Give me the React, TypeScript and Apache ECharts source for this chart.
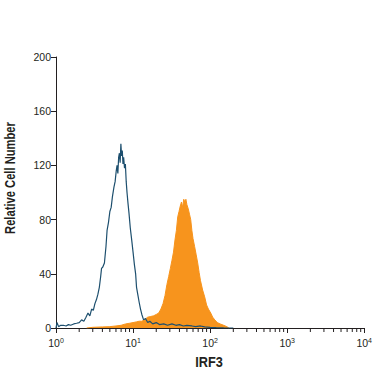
import React, { useEffect, useRef } from "react";
import * as echarts from "echarts";

const blueData: [number, number][] = [
  [1.0, 0], [1.03, 4], [1.08, 1], [1.15, 2], [1.25, 2], [1.35, 1.5], [1.45, 2.5], [1.55, 2],
  [1.7, 3], [1.85, 3.5], [2.0, 4], [2.15, 6], [2.3, 5], [2.45, 8], [2.6, 11], [2.75, 9],
  [2.9, 14], [3.05, 13], [3.2, 18], [3.35, 21], [3.5, 25], [3.65, 30], [3.8, 38], [3.9, 44],
  [4.05, 45], [4.25, 48], [4.45, 60], [4.6, 72], [4.8, 78], [5.0, 86], [5.2, 89], [5.4, 97],
  [5.65, 104], [5.85, 108], [6.05, 116], [6.2, 120], [6.35, 114], [6.5, 126], [6.65, 129],
  [6.8, 122], [6.95, 136], [7.1, 127], [7.25, 131], [7.4, 121], [7.55, 126], [7.75, 118],
  [7.95, 121], [8.15, 108], [8.35, 100], [8.6, 92], [8.85, 85], [9.2, 74], [9.6, 65],
  [10.0, 56], [10.4, 47], [10.8, 40], [11.1, 30], [11.5, 25], [12.0, 19], [12.5, 14],
  [13.0, 10], [13.7, 6], [14.5, 7], [15.5, 4], [16.5, 5], [18, 3], [20, 4], [22, 2.5],
  [25, 3], [28, 2], [32, 3], [36, 2], [40, 2.5], [45, 1.5], [50, 2], [58, 1.5], [65, 1],
  [75, 1.5], [85, 0.8], [100, 0.5], [120, 0.3], [150, 0.1], [200, 0],
];

const orangeData: [number, number][] = [
  [2.5, 0], [3, 0.5], [4, 0.8], [5, 1], [6, 1.5], [7, 2], [8, 3], [9, 3.5], [10, 4],
  [11, 4.5], [12, 5], [13, 5], [14, 6], [15.5, 8], [17, 8.5], [18.5, 9], [20, 10],
  [21.5, 11], [23, 14], [24.5, 18], [26, 24], [27.5, 32], [29, 38], [30.5, 44], [32, 50],
  [33.5, 56], [35, 65], [36.5, 72], [38, 82], [39.5, 86], [41, 90], [42.5, 93], [44, 89],
  [45.5, 95], [47, 93], [48.5, 95], [50, 91], [52, 88], [54, 84], [56, 80], [58, 72],
  [60, 66], [63, 60], [66, 54], [69, 48], [72, 41], [75, 35], [80, 28], [85, 23], [90, 17],
  [95, 14], [102, 11], [108, 8], [115, 6], [124, 4], [135, 3], [150, 2], [165, 1], [175, 0],
];

const minorTickValues: number[] = [
  2, 3, 4, 5, 6, 7, 8, 9,
  20, 30, 40, 50, 60, 70, 80, 90,
  200, 300, 400, 500, 600, 700, 800, 900,
  2000, 3000, 4000, 5000, 6000, 7000, 8000, 9000,
];

const yTicks = { min: 0, max: 200, interval: 40 };
const xTitle = "IRF3";
const yTitle = "Relative Cell Number";

const FONT = "'Liberation Sans', Arial, sans-serif";
const INK = "#231f20";

export default function App() {
  const ref = useRef<HTMLDivElement>(null);
  useEffect(() => {
    if (!ref.current) return;
    const chart = echarts.init(ref.current, null, { renderer: "svg" });
    chart.setOption({
      animation: false,
      backgroundColor: "#ffffff",
      grid: { left: 56, right: 6, top: 57, bottom: 47, containLabel: false },
      xAxis: {
        type: "log",
        logBase: 10,
        min: 1,
        max: 10000,
        axisLine: { show: true, onZero: false, lineStyle: { color: INK, width: 1 } },
        axisTick: { show: true, inside: false, length: 5, lineStyle: { color: INK } },
        splitLine: { show: false },
        axisLabel: {
          margin: 9,
          color: INK,
          fontFamily: FONT,
          formatter: (v: number) => `{b|10}{s|${Math.round(Math.log10(v))}}`,
          rich: {
            b: { fontSize: 10.5, fontFamily: FONT, color: INK, lineHeight: 12 },
            s: { fontSize: 7, fontFamily: FONT, color: INK, lineHeight: 7, verticalAlign: "top" },
          },
        },
      },
      yAxis: {
        type: "value",
        min: yTicks.min,
        max: yTicks.max,
        interval: yTicks.interval,
        axisLine: { show: true, lineStyle: { color: INK, width: 1 } },
        axisTick: { show: true, inside: false, length: 5, lineStyle: { color: INK } },
        splitLine: { show: false },
        axisLabel: { margin: 5, color: INK, fontSize: 10.5, fontFamily: FONT },
      },
      graphic: [
        {
          type: "text",
          x: 11,
          y: 178,
          rotation: Math.PI / 2,
          scaleX: 0.8,
          style: {
            text: yTitle,
            fontSize: 14,
            fontWeight: "bold",
            fontFamily: FONT,
            fill: INK,
            align: "center",
            verticalAlign: "middle",
          },
        },
        {
          type: "text",
          x: 209,
          y: 362,
          scaleX: 0.85,
          style: {
            text: xTitle,
            fontSize: 15,
            fontWeight: "bold",
            fontFamily: FONT,
            fill: INK,
            align: "center",
            verticalAlign: "middle",
          },
        },
      ],
      series: [
        {
          type: "line",
          data: orangeData,
          showSymbol: false,
          symbol: "none",
          lineStyle: { color: "#f7941d", width: 1 },
          areaStyle: { color: "#f7941d", opacity: 1 },
          z: 2,
        },
        {
          type: "line",
          data: blueData,
          showSymbol: false,
          symbol: "none",
          lineStyle: { color: "#1d4f6e", width: 1.2 },
          z: 3,
        },
        {
          type: "custom",
          data: minorTickValues.map((v) => [v, 0]),
          clip: false,
          silent: true,
          z: 4,
          renderItem: (params: any, api: any) => {
            const p = api.coord([api.value(0), 0]);
            return {
              type: "line",
              shape: { x1: p[0], y1: p[1], x2: p[0], y2: p[1] + 4 },
              style: { stroke: INK, lineWidth: 1 },
            };
          },
        },
      ],
    });
    return () => chart.dispose();
  }, []);
  return (
    <div
      ref={ref}
      style={{ position: "fixed", left: 0, top: 0, width: 375, height: 375 }}
    />
  );
}
